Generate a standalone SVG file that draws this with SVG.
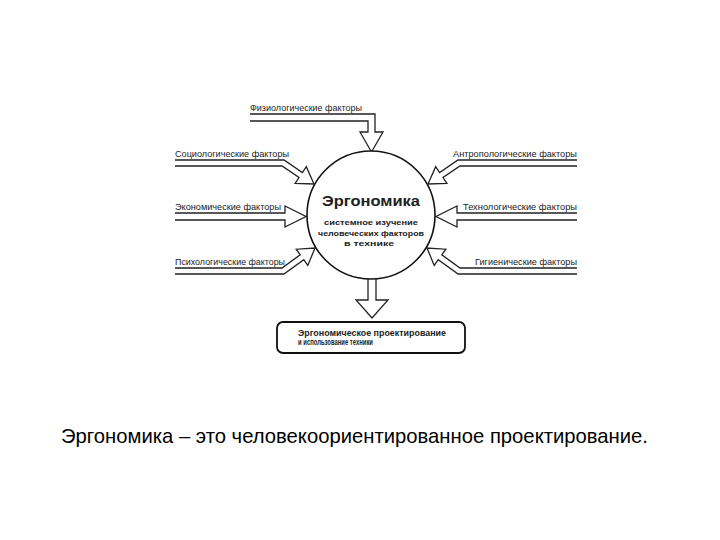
<svg xmlns="http://www.w3.org/2000/svg" width="720" height="540" viewBox="0 0 720 540">
<style>
.arr{fill:none;stroke:#222;stroke-width:1.3;stroke-linejoin:miter}
.lbl{font-family:"Liberation Sans",Arial,sans-serif;font-size:8.5px;fill:#222}
.b{font-family:"Liberation Sans",Arial,sans-serif;font-weight:bold;fill:#222}
</style>
<rect width="720" height="540" fill="#fff"/>
<g id="connectors">
<path class="arr" d="M250,114 H375 V132 H383 L371.5,152 L360,132 H368 V121 H250"/>
<path class="arr" d="M175,160 H284 L302.4,172.5 L306.3,166.7 L314,184 L295.1,183.3 L299,177.5 L282,166 H175"/>
<path class="arr" d="M175,213 H285 V206 L306,216.5 L285,227 V220 H175"/>
<path class="arr" d="M175,268 H282 L300.2,254.9 L296.2,249.2 L315,248 L307.8,265.4 L303.8,259.7 L283.9,274 H175"/>
<path class="arr" d="M577,160 H458 L439.6,172.5 L435.7,166.7 L428,184 L446.9,183.3 L443,177.5 L460,166 H577"/>
<path class="arr" d="M577,213 H457 V206 L436,216.5 L457,227 V220 H577"/>
<path class="arr" d="M577,268 H460 L441.8,254.9 L445.8,249.2 L427,248 L434.2,265.4 L438.2,259.7 L458.1,274 H577"/>
<path class="arr" d="M368,279 V300 H356 L372,318 L388,300 H376 V279"/>
</g>
<g id="center">
<circle cx="371" cy="215" r="64" fill="#fff" stroke="#111" stroke-width="1.6"/>
<text class="b" x="371" y="206" font-size="15.5" text-anchor="middle" textLength="98" lengthAdjust="spacingAndGlyphs">Эргономика</text>
<text class="b" x="371" y="225" font-size="8" text-anchor="middle" textLength="94" lengthAdjust="spacingAndGlyphs">системное изучение</text>
<text class="b" x="371" y="235.5" font-size="8" text-anchor="middle" textLength="106" lengthAdjust="spacingAndGlyphs">человеческих факторов</text>
<text class="b" x="369" y="246" font-size="8" text-anchor="middle" textLength="50" lengthAdjust="spacingAndGlyphs">в технике</text>
</g>
<g id="phys"><text class="lbl" x="250" y="111" textLength="112" lengthAdjust="spacingAndGlyphs">Физиологические факторы</text></g>
<g id="soc"><text class="lbl" x="175" y="157" textLength="114" lengthAdjust="spacingAndGlyphs">Социологические факторы</text></g>
<g id="econ"><text class="lbl" x="175" y="210" textLength="106" lengthAdjust="spacingAndGlyphs">Экономические факторы</text></g>
<g id="psych"><text class="lbl" x="175" y="265" textLength="110" lengthAdjust="spacingAndGlyphs">Психологические факторы</text></g>
<g id="anthro"><text class="lbl" x="453" y="157" textLength="124" lengthAdjust="spacingAndGlyphs">Антропологические факторы</text></g>
<g id="tech"><text class="lbl" x="463" y="210" textLength="114" lengthAdjust="spacingAndGlyphs">Технологические факторы</text></g>
<g id="hyg"><text class="lbl" x="475" y="265" textLength="102" lengthAdjust="spacingAndGlyphs">Гигиенические факторы</text></g>
<g id="result">
<rect x="277" y="322" width="188" height="31" rx="6" fill="#fff" stroke="#111" stroke-width="1.8"/>
<text class="b" x="298" y="336" font-size="8.5" textLength="148" lengthAdjust="spacingAndGlyphs">Эргономическое проектирование</text>
<text class="b" x="298" y="345" font-size="8.5" textLength="75" lengthAdjust="spacingAndGlyphs">и использование техники</text>
</g>
<text x="61" y="443" font-family="'Liberation Sans',Arial,sans-serif" font-size="20.3" fill="#000" textLength="587" lengthAdjust="spacingAndGlyphs">Эргономика – это человекоориентированное проектирование.</text>
</svg>
